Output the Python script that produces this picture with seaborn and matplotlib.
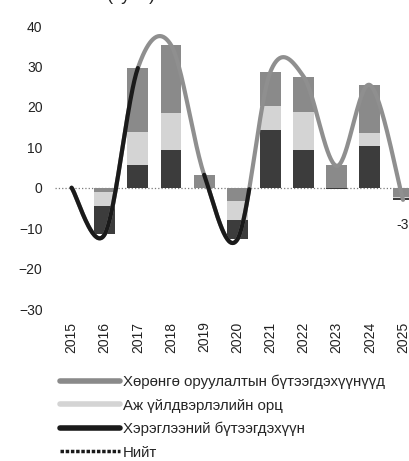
import numpy as np
import matplotlib
matplotlib.use('Agg')
import matplotlib.pyplot as plt
from matplotlib.lines import Line2D
import seaborn as sns

# өгөгдөл
years = ['2015', '2016', '2017', '2018', '2019', '2020', '2021', '2022', '2023', '2024', '2025']
consumer = [0, -7.0, 5.7, 9.4, 0, -4.9, 14.3, 9.4, -0.3, 10.2, -0.4]
industrial = [0, -3.5, 8.1, 9.1, 0, -4.7, 5.8, 9.4, 0, 3.4, -0.4]
investment = [0, -1.0, 15.8, 16.8, 3.2, -3.2, 8.6, 8.7, 5.7, 11.8, -2.2]
total = [0, -11.5, 29.6, 35.3, 3.2, -12.8, 28.7, 27.5, 5.4, 25.4, -3.0]
labels = ['Хөрөнгө оруулалтын бүтээгдэхүүнүүд', 'Аж үйлдвэрлэлийн орц',
          'Хэрэглээний бүтээгдэхүүн', 'Нийт']

sns.set_theme(style='white')
plt.rcParams['font.family'] = ['Liberation Sans', 'DejaVu Sans']

c_inv, c_ind, c_con = '#8a8a8a', '#d4d4d4', '#3c3c3c'
c_line, c_dark = '#8f8f8f', '#1a1a1a'

fig = plt.figure(figsize=(4.09, 4.61), dpi=100)
ax = fig.add_axes([0.1345, 0.3297, 0.8914, 0.6139])

x = np.arange(len(years))
series = {'con': (consumer, c_con), 'ind': (industrial, c_ind), 'inv': (investment, c_inv)}
pos_order = ['con', 'ind', 'inv']
neg_order = ['inv', 'ind', 'con']

# stacked bars (positive up, negative down)
bottoms = {k: np.zeros(len(years)) for k in series}
for i in range(len(years)):
    base = 0
    for k in pos_order:
        v = series[k][0][i]
        if v > 0:
            bottoms[k][i] = base
            base += v
    base = 0
    for k in neg_order:
        v = series[k][0][i]
        if v < 0:
            bottoms[k][i] = base
            base += v
for k, (vals, col) in series.items():
    ax.bar(x, vals, bottom=bottoms[k], width=0.63, color=col, linewidth=0, zorder=2)

ax.axhline(0, color='#7a7a7a', lw=0.9, ls=':', zorder=1)

# smoothed line (like excel)
P = np.column_stack([x, total]).astype(float)
P = np.vstack([P[0], P, P[-1]])
xs, ys, seg = [], [], []
t = np.linspace(0, 1, 40)[:, None]
for k in range(len(years) - 1):
    p0, p1, p2, p3 = P[k], P[k + 1], P[k + 2], P[k + 3]
    c1 = p1 + (p2 - p0) / 6
    c2 = p2 - (p3 - p1) / 6
    b = (1 - t) ** 3 * p1 + 3 * (1 - t) ** 2 * t * c1 + 3 * (1 - t) * t ** 2 * c2 + t ** 3 * p2
    xs += list(b[:, 0]); ys += list(b[:, 1]); seg += [k] * len(t)
xs, ys, seg = np.array(xs), np.array(ys), np.array(seg)
sns.lineplot(x=xs, y=ys, sort=False, color=c_line, lw=3, ax=ax, zorder=3)
dark = np.isin(seg, [0, 1, 4]) | ((seg == 5) & (ys < 0))
ax.plot(xs, np.where(dark, ys, np.nan), color=c_dark, lw=3, zorder=4, solid_capstyle='round')

ax.annotate('-3', (x[-1], total[-1]), xytext=(0, -18), textcoords='offset points',
            ha='center', va='center', fontsize=10, color='#222222')

ax.set_xlim(-0.5, 10.5)
ax.set_ylim(-30, 40)
ax.set_yticks(range(-30, 41, 10))
ax.set_xticks(x)
ax.set_xticklabels(years, rotation=90)
ax.tick_params(length=0, labelsize=10, labelcolor='#222222')
ax.tick_params(axis='y', pad=9)
ax.tick_params(axis='x', pad=9)
sns.despine(ax=ax, left=True, bottom=True)
ax.set_xlabel(''); ax.set_ylabel('')

# гарчиг дээд талдаа тасарсан
fig.text(107 / 409, 1 + 0.5 / 461, '(хувь)', fontsize=13, va='baseline', ha='left', color='#222222')

handles = [Line2D([0], [0], color=c_inv, lw=4), Line2D([0], [0], color=c_ind, lw=4),
           Line2D([0], [0], color=c_dark, lw=4), Line2D([0], [0], color=c_dark, lw=2.5, ls=(0, (1, 0.5)))]
fig.legend(handles, labels, loc='upper left', bbox_to_anchor=(60 / 409, 1 - 375 / 461),
           frameon=False, borderpad=0, borderaxespad=0, handlelength=4, handletextpad=0.2,
           labelspacing=0.62, fontsize=10.8)

fig.savefig('out.png', dpi=100)
